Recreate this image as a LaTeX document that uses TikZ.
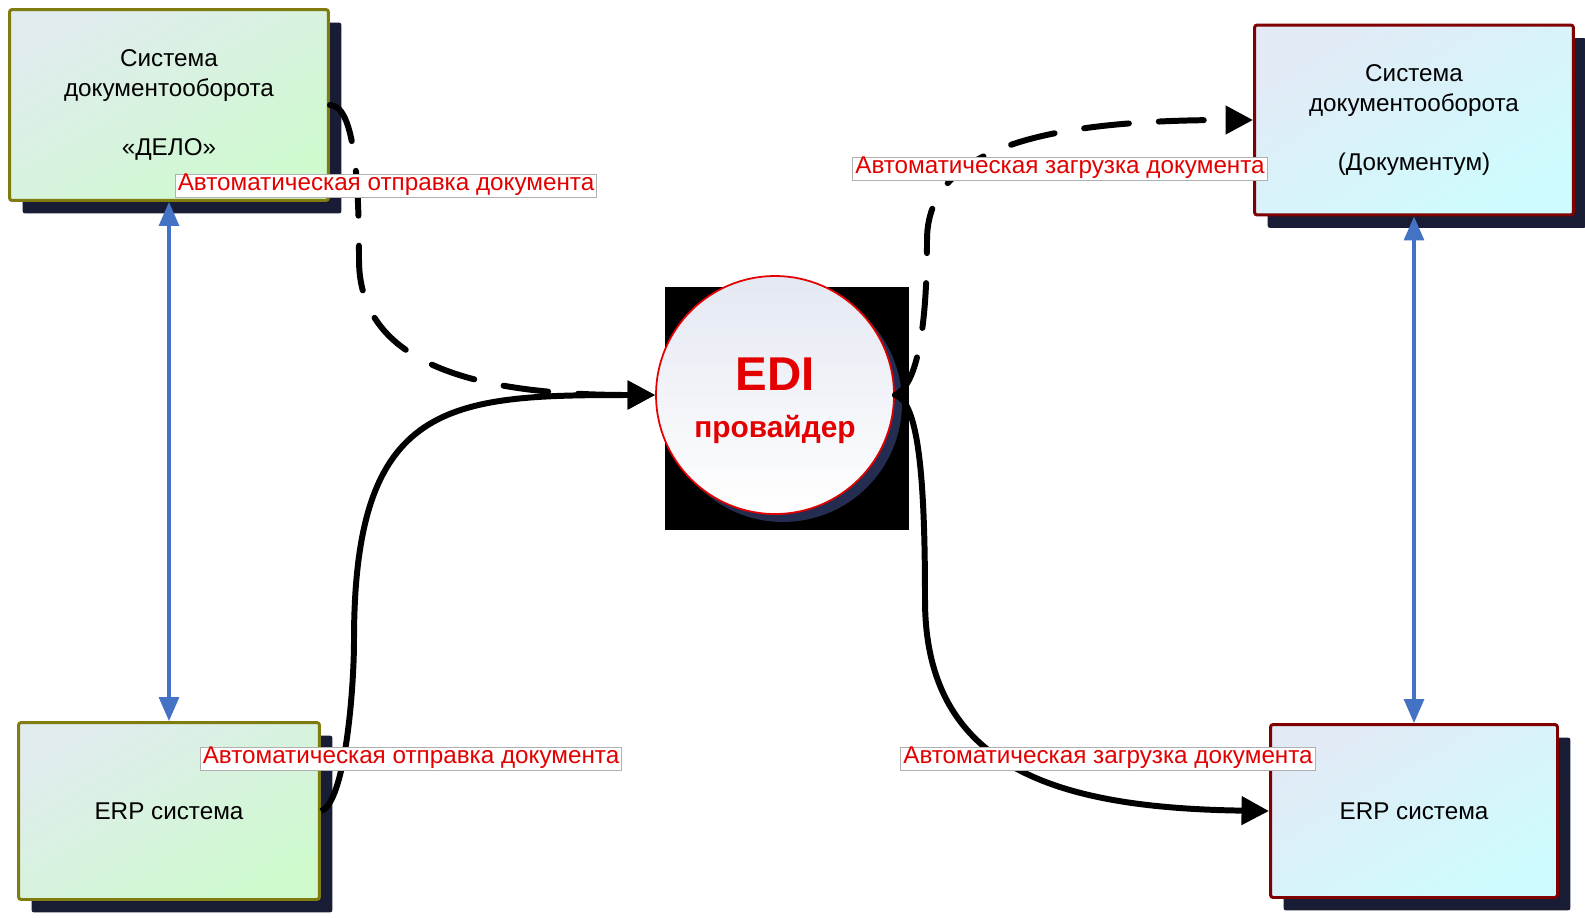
\documentclass[tikz,border=0pt]{standalone}
\usepackage{fontspec}
\setmainfont{Liberation Sans}
\usepackage{xcolor}
\usepackage{tikz}
\usetikzlibrary{
  arrows.meta,
  backgrounds,
  calc,
  shadows
}
\definecolor{olivegreen}{RGB}{128,124,16}
\definecolor{darkred}{RGB}{128,0,0}
\definecolor{greenpale}{RGB}{206,250,206}
\definecolor{greentop}{RGB}{224,236,238}
\definecolor{cyanpale}{RGB}{206,252,254}
\definecolor{cyantop}{RGB}{226,234,246}
\definecolor{shadowblue}{RGB}{24,28,52}
\definecolor{edishadow}{RGB}{36,44,80}
\definecolor{editop}{RGB}{228,232,242}
\definecolor{edired}{RGB}{228,0,0}
\definecolor{linkblue}{RGB}{68,114,196}
\definecolor{tagred}{RGB}{226,0,0}
\definecolor{tagline}{RGB}{176,176,176}
\tikzset{
  sheet/.style={ font=\fontsize{13.8}{16.8}\selectfont },
  sysbox/.style={
    draw=#1,
    line width=1.7pt,
    rounded corners=1.5pt,
    align=center,
    inner sep=0pt,
    drop shadow={shadow xshift=0.26cm, shadow yshift=-0.26cm,
      fill=shadowblue, opacity=1}
  },
  greenbox/.style={
    sysbox=olivegreen,
    top color=greentop,
    middle color=greenpale,
    bottom color=greenpale,
    shading angle=30
  },
  cyanbox/.style={
    sysbox=darkred,
    top color=cyantop,
    middle color=cyanpale,
    bottom color=cyanpale,
    shading angle=30
  },
  edinode/.style={
    circle,
    draw=edired,
    line width=1pt,
    minimum size=4.76cm,
    top color=editop,
    bottom color=white,
    text=edired,
    align=center,
    font=\bfseries\fontsize{17}{20}\selectfont,
    drop shadow={shadow xshift=0.16cm, shadow yshift=-0.16cm,
      fill=edishadow, opacity=1}
  },
  flow/.style={
    -{Triangle[length=0.55cm, width=0.55cm]},
    line width=3.4pt,
    draw=black
  },
  dashflow/.style={
    flow,
    line cap=round,
    dash pattern=on 0.9cm off 0.6cm
  },
  link/.style={
    {Triangle[length=0.48cm, width=0.4cm]}-{Triangle[length=0.48cm, width=0.4cm]},
    line width=1.8pt,
    draw=linkblue
  },
  tag/.style={
    draw=tagline,
    line width=0.5pt,
    fill=white,
    text=tagred,
    inner xsep=1.5pt,
    inner ysep=1.5pt,
    text height=0.75em,
    text depth=0.25em
  }
}

\begin{document}
\begin{tikzpicture}[sheet, x=0.02cm, y=-0.02cm]
  \useasboundingbox (0,0) rectangle (1585,917);
  \node[greenbox, minimum width=6.38cm, minimum height=3.82cm] (delo) at (169,105)
    {Система\\документооборота\\[16.8pt]«ДЕЛО»};
  \node[greenbox, minimum width=6.02cm, minimum height=3.54cm] (erpl) at (169,811)
    {ERP система};
  \node[cyanbox, minimum width=6.38cm, minimum height=3.8cm] (dok) at (1414,120)
    {Система\\документооборота\\[16.8pt](Документум)};
  \node[cyanbox, minimum width=5.74cm, minimum height=3.46cm] (erpr) at (1414,811)
    {ERP система};
  \node[edinode] (edi) at (775,395)
    {\rule{0pt}{25pt}{\fontsize{27}{27}\selectfont EDI}\\[7pt]провайдер};
  \begin{scope}[on background layer]
    \fill[black] ($(edi.west |- edi.south)+(10,15)$) rectangle ($(edi.east |- edi.north)+(14,12)$);
  \end{scope}
  \draw[dashflow] (delo.east) .. controls +(26,0) and +(0,-70) .. (359,260)
    .. controls +(0,110) and +(-166,0) .. (edi.west);
  \draw[flow] (erpl.east) .. controls +(24,-8) and +(0,50) .. (354,640)
    .. controls +(0,-240) and +(-206,0) .. (edi.west);
  \draw[dashflow] (edi.east) .. controls +(24,-10) and +(0,80) .. (927,240)
    .. controls +(0,-90) and +(-213,0) .. (dok.west);
  \draw[flow] (edi.east) .. controls +(24,6) and +(0,-120) .. (925,600)
    .. controls +(0,170) and +(-209,-3) .. (erpr.west);
  \draw[link] (delo.south) -- (erpl.north);
  \draw[link] (dok.south) -- (erpr.north);
  \node[tag] (send1) at (386,186) {Автоматическая отправка документа};
  \node[tag] (load1) at (1060,169) {Автоматическая загрузка документа};
  \node[tag] (send2) at (411,759) {Автоматическая отправка документа};
  \node[tag] (load2) at (1108,759) {Автоматическая загрузка документа};
\end{tikzpicture}
\end{document}
